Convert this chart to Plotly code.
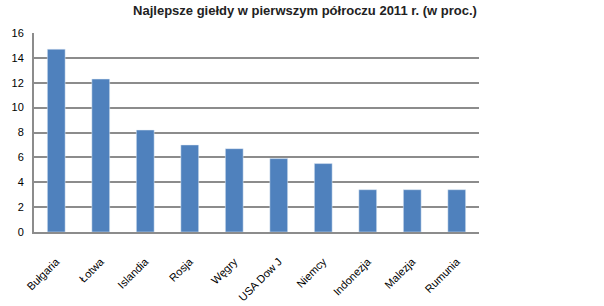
import plotly.graph_objects as go

categories = ["Bułgaria", "Łotwa", "Islandia", "Rosja", "Węgry", "USA Dow J", "Niemcy", "Indonezja", "Malezja", "Rumunia"]
values = [14.7, 12.3, 8.2, 7.0, 6.7, 5.9, 5.5, 3.4, 3.4, 3.4]
y_ticks = [0, 2, 4, 6, 8, 10, 12, 14, 16]

fig = go.Figure(go.Bar(x=categories, y=values, marker_color="#4F81BD", width=0.4))

fig.update_layout(
    width=604, height=306,
    margin=dict(l=34, r=125, t=33, b=74),
    paper_bgcolor="white", plot_bgcolor="white",
    font=dict(family="Liberation Sans, Arial", size=11, color="#000"),
    title=dict(text="<b>Najlepsze giełdy w pierwszym półroczu 2011 r. (w proc.)</b>",
               x=0.505, xanchor="center", y=0.965, yanchor="middle",
               font=dict(size=13, color="#222")),
    showlegend=False,
    bargap=0.6,
)
fig.update_yaxes(range=[0, 16], tickvals=y_ticks, showgrid=True, gridcolor="#8c8c8c", gridwidth=2,
                 showline=True, linecolor="#8c8c8c", linewidth=2, ticks="", zeroline=False,
                 tickfont=dict(size=11), ticklabelstandoff=6, automargin=False)
fig.update_xaxes(tickangle=-45, showline=True, linecolor="#8c8c8c", linewidth=2, ticks="",
                 tickfont=dict(size=11), ticklabelstandoff=17, automargin=False)

fig.write_html("out.html")
